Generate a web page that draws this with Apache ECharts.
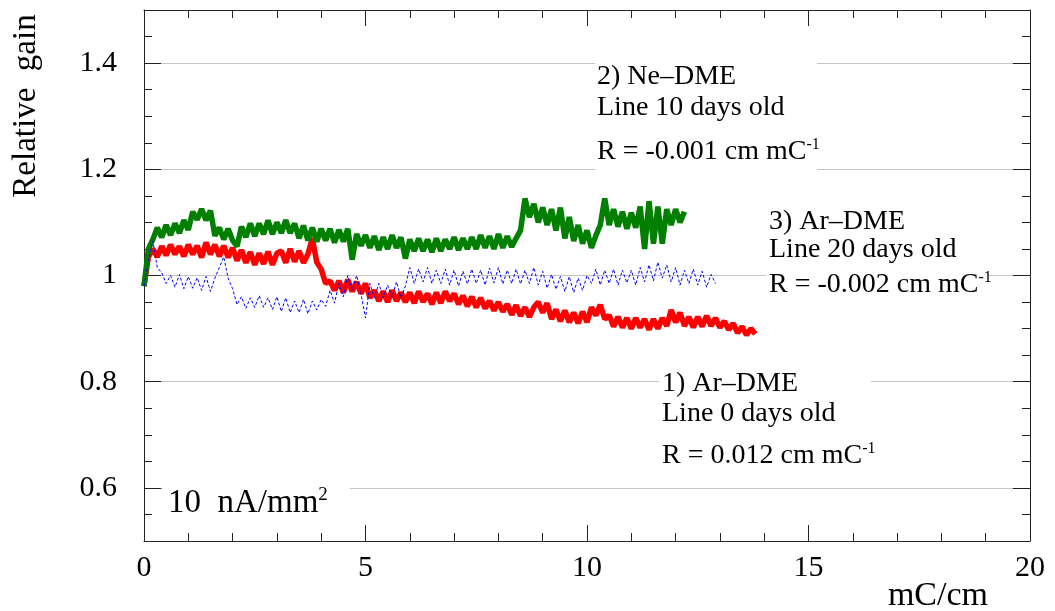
<!DOCTYPE html>
<html>
<head>
<meta charset="utf-8">
<script src="https://cdn.jsdelivr.net/npm/echarts@6/dist/echarts.min.js"></script>
<style>html,body{margin:0;padding:0;background:#fff}#c{width:1055px;height:611px}</style>
</head>
<body>
<div id="c"></div>
<script>
const xStart = 0.0;
const xStep = 0.1;

// 1) Ar-DME, line 0 days old (red)
const redGain = [
0.98,1.035,1.05,1.035,1.055,1.038,1.058,1.04,1.055,1.036,
1.058,1.04,1.056,1.034,1.062,1.04,1.058,1.036,1.056,1.034,
1.052,1.028,1.048,1.024,1.044,1.02,1.042,1.022,1.045,1.02,
1.042,1.046,1.024,1.05,1.026,1.046,1.024,1.04,1.07,1.025,
1.012,0.985,0.99,0.972,0.99,0.968,0.992,0.97,0.988,0.966,
0.985,0.958,0.972,0.952,0.97,0.95,0.972,0.952,0.968,0.95,
0.968,0.948,0.97,0.95,0.966,0.946,0.968,0.948,0.97,0.952,
0.966,0.946,0.962,0.942,0.96,0.94,0.958,0.938,0.952,0.934,
0.95,0.932,0.946,0.926,0.944,0.924,0.94,0.922,0.94,0.95,
0.93,0.948,0.918,0.936,0.914,0.934,0.912,0.93,0.91,0.932,
0.912,0.94,0.925,0.945,0.918,0.925,0.904,0.922,0.902,0.92,
0.9,0.92,0.902,0.918,0.898,0.918,0.9,0.92,0.905,0.935,
0.912,0.93,0.905,0.922,0.902,0.922,0.904,0.924,0.905,0.92,
0.902,0.914,0.898,0.91,0.892,0.904,0.888,0.9,0.89
];

// 2) Ne-DME, line 10 days old (green)
const greenGain = [
0.98,1.05,1.068,1.09,1.072,1.095,1.076,1.098,1.08,1.104,
1.086,1.12,1.105,1.125,1.104,1.122,1.075,1.09,1.068,1.088,
1.066,1.055,1.092,1.072,1.098,1.074,1.098,1.078,1.104,1.078,
1.1,1.08,1.104,1.08,1.098,1.07,1.094,1.066,1.09,1.064,
1.088,1.066,1.088,1.062,1.086,1.064,1.088,1.03,1.078,1.056,
1.076,1.052,1.074,1.048,1.072,1.05,1.076,1.052,1.072,1.032,
1.068,1.046,1.07,1.046,1.068,1.044,1.07,1.046,1.068,1.05,
1.072,1.048,1.07,1.05,1.072,1.05,1.076,1.052,1.074,1.05,
1.078,1.052,1.074,1.054,1.07,1.085,1.145,1.11,1.135,1.1,
1.128,1.095,1.125,1.085,1.128,1.07,1.11,1.065,1.095,1.06,
1.085,1.052,1.075,1.095,1.145,1.095,1.125,1.092,1.12,1.088,
1.118,1.09,1.13,1.05,1.14,1.06,1.13,1.06,1.125,1.095,
1.125,1.1,1.12
];

// 3) Ar-DME, line 20 days old (blue)
const blueGain = [
0.98,1.03,1.065,1.015,1.005,0.985,1.0,0.978,1.002,0.975,
0.998,0.976,0.996,0.972,0.998,0.97,0.995,1.015,1.035,0.995,
0.975,0.945,0.96,0.938,0.958,0.94,0.962,0.94,0.958,0.936,
0.96,0.932,0.958,0.93,0.952,0.93,0.955,0.928,0.952,0.935,
0.955,0.942,0.972,0.948,0.985,0.96,1.0,0.972,1.0,0.965,
0.92,0.985,0.958,0.985,0.958,0.982,0.96,0.988,0.958,0.98,
1.015,0.985,1.012,0.988,1.015,0.985,1.01,0.985,1.012,0.982,
1.01,0.98,1.008,0.984,1.012,0.985,1.01,0.982,1.014,0.986,
1.015,0.984,1.01,0.985,1.012,0.984,1.01,0.985,1.015,0.982,
1.008,0.976,1.002,0.974,0.998,0.97,0.998,0.968,0.995,0.972,
1.0,0.985,1.012,0.982,1.01,0.985,1.012,0.982,1.01,0.986,
1.01,0.982,1.015,0.988,1.02,0.99,1.025,0.995,1.02,0.988,
1.015,0.982,1.01,0.985,1.012,0.982,1.008,0.978,1.002,0.985
];

const xTicks = [0, 5, 10, 15, 20];
const yTickLabels = [0.6, 0.8, 1, 1.2, 1.4];

function toPairs(arr) {
  return arr.map((v, i) => [+(xStart + i * xStep).toFixed(2), v]);
}

const serif = 'Liberation Serif';
const chart = echarts.init(document.getElementById('c'), null, {renderer: 'canvas'});

const axisLineStyle = {color: '#222', width: 1};
function xAx(pos, labels) {
  return {
    type: 'value', position: pos, min: xTicks[0], max: xTicks[xTicks.length - 1], interval: 5,
    axisLine: {show: true, onZero: false, lineStyle: axisLineStyle},
    axisTick: {show: true, inside: true, length: 16, lineStyle: {color: '#222'}},
    minorTick: {show: true, splitNumber: 5, length: 8, lineStyle: {color: '#222'}},
    axisLabel: {show: labels, fontFamily: serif, fontSize: 30, color: '#000', margin: 12},
    splitLine: {show: false}
  };
}
function yAx(pos, labels) {
  return {
    type: 'value', position: pos, min: 0.5, max: 1.5, splitNumber: 5,
    axisLine: {show: true, onZero: false, lineStyle: axisLineStyle},
    axisTick: {show: true, inside: true, length: 17, lineStyle: {color: '#222'}},
    minorTick: {show: true, splitNumber: 4, length: 8, lineStyle: {color: '#222'}},
    axisLabel: {
      show: labels, fontFamily: serif, fontSize: 30, color: '#000', margin: 27,
      showMinLabel: false, showMaxLabel: false,
      formatter: v => (yTickLabels.some(t => Math.abs(t - v) < 1e-6) ? String(+v.toFixed(2)) : '')
    },
    splitLine: {show: labels, lineStyle: {color: '#c4c4c4', width: 1}}
  };
}

function textLines(x, lines) {
  return lines.map(l => ({
    type: 'text', z: 101, x: x, y: l.y,
    style: {
      text: l.t, x: 0, y: 0, fill: '#000', verticalAlign: 'middle', align: 'left',
      font: '28px "' + serif + '"',
      rich: {
        a: {fontFamily: serif, fontSize: 28, lineHeight: 30, fill: '#000'},
        s: {fontFamily: serif, fontSize: 16, lineHeight: 16, verticalAlign: 'top', fill: '#000'}
      }
    }
  }));
}

const boxes = [
  {x: 595, y: 56, w: 222, h: 122},
  {x: 766, y: 203, w: 222, h: 110},
  {x: 659, y: 368, w: 212, h: 106},
  {x: 163, y: 482, w: 187, h: 44}
];

const graphics = [].concat(
  boxes.map(b => ({type: 'rect', z: 100, shape: {x: b.x, y: b.y, width: b.w, height: b.h}, style: {fill: '#fff'}})),
  textLines(597, [
    {t: '{a|2) Ne–DME}', y: 77},
    {t: '{a|Line 10 days old}', y: 108},
    {t: '{a|R = -0.001 cm mC}{s|-1}', y: 152}
  ]),
  textLines(769, [
    {t: '{a|3) Ar–DME}', y: 222},
    {t: '{a|Line 20 days old}', y: 250},
    {t: '{a|R = -0.002 cm mC}{s|-1}', y: 285}
  ]),
  textLines(662, [
    {t: '{a|1) Ar–DME}', y: 384},
    {t: '{a|Line 0 days old}', y: 414},
    {t: '{a|R = 0.012 cm mC}{s|-1}', y: 456}
  ]),
  [
    {type: 'text', z: 101, x: 168, y: 503, style: {
      text: '{a|10  nA/mm}{s|2}', verticalAlign: 'middle', align: 'left',
      rich: {
        a: {fontFamily: serif, fontSize: 33, lineHeight: 34, fill: '#000'},
        s: {fontFamily: serif, fontSize: 19, lineHeight: 19, verticalAlign: 'top', fill: '#000'}
      }
    }},
    {type: 'text', z: 101, x: 988, y: 596, style: {
      text: 'mC/cm', font: '34px "' + serif + '"', fill: '#000', align: 'right', verticalAlign: 'middle'
    }},
    {type: 'text', z: 101, x: 26, y: 106, rotation: Math.PI / 2, style: {
      text: 'Relative  gain', font: '33px "' + serif + '"', fill: '#000', align: 'center', verticalAlign: 'middle'
    }}
  ]
);

chart.setOption({
  animation: false,
  backgroundColor: '#fff',
  grid: {left: 144, right: 25, top: 10, bottom: 70, containLabel: false},
  xAxis: [xAx('bottom', true), xAx('top', false)],
  yAxis: [yAx('left', true), yAx('right', false)],
  series: [
    {name: '1) Ar-DME', type: 'line', data: toPairs(redGain), showSymbol: false, symbol: 'none',
     lineStyle: {color: '#ff0000', width: 5.5}, xAxisIndex: 0, yAxisIndex: 0, z: 2},
    {name: '2) Ne-DME', type: 'line', data: toPairs(greenGain), showSymbol: false, symbol: 'none',
     lineStyle: {color: '#007f00', width: 5.5}, xAxisIndex: 0, yAxisIndex: 0, z: 3},
    {name: '3) Ar-DME', type: 'line', data: toPairs(blueGain), showSymbol: false, symbol: 'none',
     lineStyle: {color: '#0000ff', width: 1, type: [3, 2]}, xAxisIndex: 0, yAxisIndex: 0, z: 4}
  ],
  graphic: graphics
});
</script>
</body>
</html>
